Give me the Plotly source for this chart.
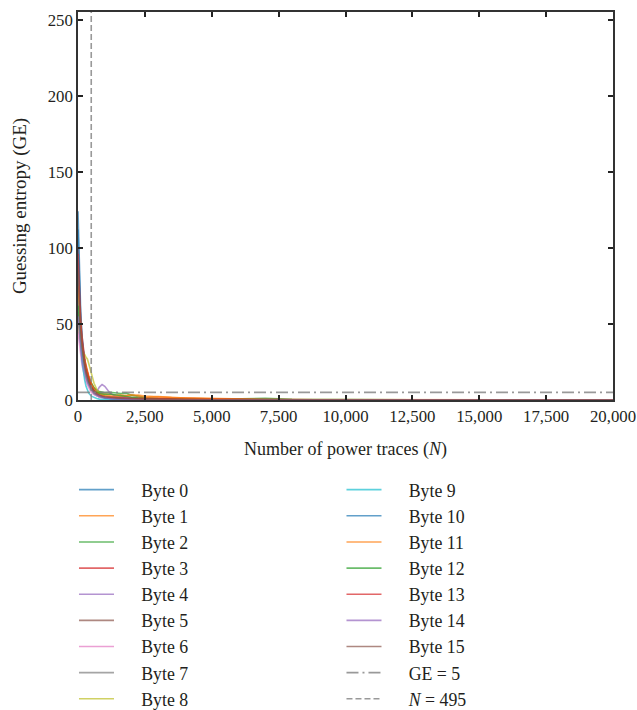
import plotly.graph_objects as go

# Number of power traces at which guessing entropy was evaluated
n_traces = [0, 50, 100, 150, 200, 250, 300, 350, 400, 500, 600, 700, 800, 900, 1000,
            1200, 1400, 1600, 1800, 2000, 2250, 2500, 3000, 3500, 4000, 5000, 6000,
            7000, 8000, 10000, 12500, 15000, 17500, 20000]

# Guessing entropy per key byte
ge_byte_0 = [112, 78, 52, 40, 28, 22, 17, 14, 11, 7, 4, 3, 2, 2, 1.2, 1, 0.5, 0.3, 0.2, 0.1, 0, 0, 0, 0, 0, 0, 0, 0, 0, 0, 0, 0, 0, 0]
ge_byte_1 = [70, 58, 44, 36, 30, 26, 22, 19, 16, 11, 8, 6, 5, 4.5, 4, 3.6, 3.2, 3.4, 2.8, 3.1, 3.3, 2.6, 1.9, 1.6, 1.4, 1.0, 0.6, 0.4, 0.3, 0.2, 0.1, 0, 0, 0]
ge_byte_2 = [80, 62, 48, 38, 31, 26, 21, 18, 15, 11, 8, 6.5, 5.5, 5.2, 4.8, 5.1, 4.6, 4.3, 4.5, 3.2, 2.4, 1.6, 1.0, 0.7, 0.5, 0.4, 0.6, 1.1, 0.5, 0.2, 0.1, 0, 0, 0]
ge_byte_3 = [100, 72, 54, 42, 33, 27, 22, 18, 15, 10, 7, 5, 3.5, 3.0, 2.5, 2.2, 2.0, 1.8, 1.7, 1.5, 1.4, 1.3, 1.1, 1.0, 0.9, 0.7, 0.4, 0.2, 0.1, 0, 0, 0, 0, 0]
ge_byte_4 = [58, 46, 36, 29, 24, 19, 16, 13, 11, 8, 6, 5.5, 8.5, 10.2, 9.0, 4.5, 2.5, 1.8, 1.2, 0.9, 0.6, 0.4, 0.3, 0.2, 0.1, 0, 0, 0, 0, 0, 0, 0, 0, 0]
ge_byte_5 = [90, 65, 48, 37, 29, 23, 19, 15, 12, 8, 5, 3.6, 2.7, 2.0, 1.6, 1.2, 0.9, 0.7, 0.5, 0.4, 0.3, 0.2, 0.1, 0, 0, 0, 0, 0, 0, 0, 0, 0, 0, 0]
ge_byte_6 = [45, 36, 29, 23, 19, 15, 12, 10, 8, 5, 3.5, 2.5, 1.8, 1.3, 1.0, 0.7, 0.5, 0.3, 0.2, 0.1, 0, 0, 0, 0, 0, 0, 0, 0, 0, 0, 0, 0, 0, 0]
ge_byte_7 = [65, 50, 38, 30, 24, 19, 15, 12, 10, 6.5, 4.5, 3.2, 2.4, 1.8, 1.4, 1.0, 0.7, 0.5, 0.3, 0.2, 0.1, 0, 0, 0, 0, 0, 0, 0, 0, 0, 0, 0, 0, 0]
ge_byte_8 = [50, 44, 38, 34, 31, 30, 28, 27, 24, 17, 11, 7, 4.5, 3.0, 2.2, 1.5, 1.0, 0.7, 0.5, 0.3, 0.2, 0.1, 0, 0, 0, 0, 0, 0, 0, 0, 0, 0, 0, 0]
ge_byte_9 = [95, 60, 38, 26, 18, 13, 9, 6.5, 4.5, 2.5, 1.5, 1.0, 0.6, 0.4, 0.3, 0.2, 0.1, 0, 0, 0, 0, 0, 0, 0, 0, 0, 0, 0, 0, 0, 0, 0, 0, 0]
ge_byte_10 = [124, 85, 58, 42, 31, 24, 19, 15, 12, 8, 5.5, 3.8, 2.7, 2.0, 1.5, 1.1, 0.8, 0.6, 0.4, 0.3, 0.2, 0.1, 0, 0, 0, 0, 0, 0, 0, 0, 0, 0, 0, 0]
ge_byte_11 = [75, 60, 47, 38, 31, 25, 21, 18, 15, 10, 7, 5, 4, 3.5, 3.0, 2.6, 2.2, 2.4, 2.9, 3.4, 2.6, 1.8, 2.2, 1.5, 1.2, 0.8, 0.3, 0.2, 0.1, 0, 0, 0, 0, 0]
ge_byte_12 = [62, 50, 40, 33, 27, 22, 18, 15, 12, 8, 6, 5, 4.4, 4.0, 3.6, 3.9, 3.3, 3.0, 2.2, 1.8, 1.3, 0.9, 0.6, 0.4, 0.3, 0.2, 0.2, 0.1, 0, 0, 0, 0, 0, 0]
ge_byte_13 = [96, 68, 50, 39, 31, 25, 20, 17, 14, 9, 6, 4, 3, 2.4, 2.0, 1.6, 1.3, 1.1, 1.0, 0.9, 0.8, 0.7, 0.6, 0.5, 0.5, 0.3, 0.1, 0, 0, 0, 0, 0, 0, 0]
ge_byte_14 = [55, 44, 34, 27, 22, 18, 15, 12, 10, 7, 5, 3.5, 2.6, 2.0, 1.5, 1.0, 0.7, 0.5, 0.3, 0.2, 0.1, 0, 0, 0, 0, 0, 0, 0, 0, 0, 0, 0, 0, 0]
ge_byte_15 = [85, 62, 46, 36, 28, 23, 18, 15, 12, 8, 5.5, 4, 3, 2.5, 2.1, 1.7, 1.4, 1.2, 1.0, 0.8, 0.6, 0.5, 0.3, 0.2, 0.1, 0, 0, 0, 0, 0, 0, 0, 0, 0]

ge_series = [ge_byte_0, ge_byte_1, ge_byte_2, ge_byte_3, ge_byte_4, ge_byte_5,
             ge_byte_6, ge_byte_7, ge_byte_8, ge_byte_9, ge_byte_10, ge_byte_11,
             ge_byte_12, ge_byte_13, ge_byte_14, ge_byte_15]
byte_labels = [f"Byte {i}" for i in range(16)]

# Reference levels
ge_threshold = 5
n_threshold = 495

x_ticks = [0, 2500, 5000, 7500, 10000, 12500, 15000, 17500, 20000]
y_ticks = [0, 50, 100, 150, 200, 250]

# tab10 palette, drawn semi-transparent
palette = [(31, 119, 180), (255, 127, 14), (44, 160, 44), (214, 39, 40),
           (148, 103, 189), (140, 86, 75), (227, 119, 194), (127, 127, 127),
           (188, 189, 34), (23, 190, 207)]

FONT = "Liberation Serif"
TEXT = "#231f20"
PAD = "\u00a0" * 5  # gap between legend line sample and its label

fig = go.Figure()

for i, (label, ys) in enumerate(zip(byte_labels, ge_series)):
    r, g, b = palette[i % 10]
    fig.add_trace(go.Scatter(
        x=n_traces, y=ys, mode="lines", name=PAD + label,
        line=dict(color=f"rgba({r},{g},{b},0.7)", width=1.6),
        legend="legend" if i < 9 else "legend2",
    ))

fig.add_trace(go.Scatter(
    x=[x_ticks[0], x_ticks[-1]], y=[ge_threshold, ge_threshold], mode="lines",
    name=PAD + f"GE = {ge_threshold}", legend="legend2",
    line=dict(color="rgba(127,127,127,0.8)", width=1.6, dash="12px,4px,2px,4px"),
))
fig.add_trace(go.Scatter(
    x=[n_threshold, n_threshold], y=[0, 255], mode="lines",
    name=PAD + f"<i>N</i> = {n_threshold}", legend="legend2",
    line=dict(color="rgba(127,127,127,0.8)", width=1.6, dash="6px,3px"),
))

axis_common = dict(
    showline=True, linecolor="#333333", linewidth=1.6, mirror="ticks",
    ticks="inside", ticklen=5, tickwidth=1.6, tickcolor="#222222",
    showgrid=False, zeroline=False, ticklabeloverflow="allow",
    tickfont=dict(family=FONT, size=16.8, color=TEXT),
)

fig.update_xaxes(
    range=[0, 20000], tickvals=x_ticks, tickformat=",d",
    title=dict(text="Number of power traces (<i>N</i>)",
               font=dict(family=FONT, size=18, color=TEXT), standoff=17),
    **axis_common,
)
fig.update_yaxes(
    range=[0, 255], tickvals=y_ticks,
    title=dict(text="Guessing entropy (GE)",
               font=dict(family=FONT, size=19, color=TEXT), standoff=16),
    **axis_common,
)

legend_common = dict(
    orientation="v", yanchor="top", xanchor="left",
    font=dict(family=FONT, size=17.8, color=TEXT),
    bgcolor="rgba(0,0,0,0)", borderwidth=0, itemwidth=35,
    tracegroupgap=0,
)

fig.update_layout(
    width=637, height=710,
    margin=dict(l=78, r=24, t=12, b=310, autoexpand=False),
    paper_bgcolor="white", plot_bgcolor="white",
    legend=dict(x=-0.0075, y=-0.1845, **legend_common),
    legend2=dict(x=0.4925, y=-0.1845, **legend_common),
    showlegend=True,
)

fig.write_html("out.html")
